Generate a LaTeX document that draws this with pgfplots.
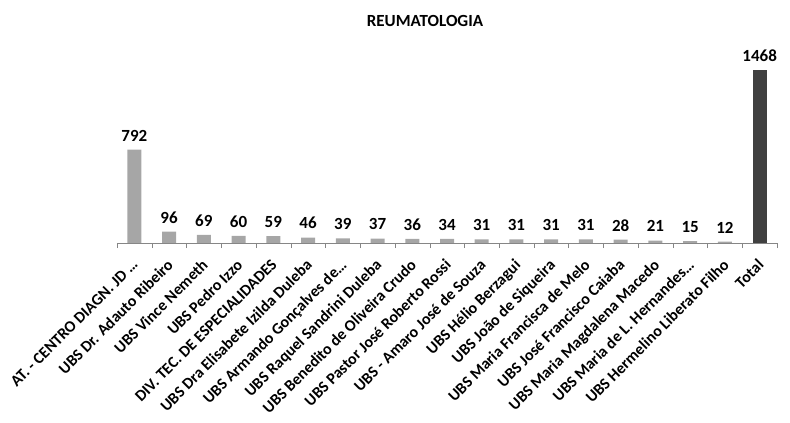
\documentclass[border=0pt]{standalone}
\usepackage{pgfplots}
\pgfplotsset{compat=1.18}
\usepackage{fontspec}
\setmainfont{Carlito}
\definecolor{barlight}{HTML}{A6A6A6}
\definecolor{bardark}{HTML}{404040}
\definecolor{axisgray}{HTML}{868686}
\begin{document}
\begin{tikzpicture}[x=1pt,y=1pt]
\path[use as bounding box] (0,0) rectangle (790,423);
\node[font=\bfseries\fontsize{17}{19}\selectfont] at (425,402) {REUMATOLOGIA};
\begin{axis}[
  at={(117pt,180pt)}, anchor=south west,
  scale only axis,
  width=660pt, height=188.6pt,
  xmin=-0.5, xmax=18.5,
  ymin=0, ymax=1600,
  axis x line*=bottom,
  axis y line=none,
  x axis line style={axisgray, -},
  xtick={0,1,2,3,4,5,6,7,8,9,10,11,12,13,14,15,16,17,18},
  xticklabels={{AT. - CENTRO DIAGN. JD \ldots},{UBS Dr. Adauto Ribeiro},{UBS Vince Nemeth},{UBS Pedro Izzo},{DIV. TEC. DE ESPECIALIDADES},{UBS Dra Elisabete Izilda Duleba},{UBS Armando Gonçalves de\ldots},{UBS Raquel Sandrini Duleba},{UBS Benedito de Oliveira Crudo},{UBS Pastor José Roberto Rossi},{UBS - Amaro José de Souza},{UBS Hélio Berzagui},{UBS João de Siqueira},{UBS Maria Francisca de Melo},{UBS José Francisco Caiaba},{UBS Maria Magdalena Macedo},{UBS Maria de L. Hernandes\ldots},{UBS Hermelino Liberato Filho},{Total}},
  major tick length=0pt,
  extra x ticks={-0.5,0.5,1.5,2.5,3.5,4.5,5.5,6.5,7.5,8.5,9.5,10.5,11.5,12.5,13.5,14.5,15.5,16.5,17.5,18.5},
  extra x tick labels={},
  extra x tick style={major tick length=5pt, tick style={axisgray}, tick align=outside},
  xticklabel style={xshift=-3pt, yshift=-15pt, rotate=45, anchor=north east, font=\bfseries\fontsize{16}{18}\selectfont, inner sep=0pt},
  bar width=14pt,
  nodes near coords,
  /pgf/number format/assume math mode=true,
  /pgf/number format/1000 sep={},
  every node near coord/.append style={font=\bfseries\fontsize{17}{19}\selectfont, text=black, yshift=5pt},
  clip=false,
]
\addplot[ybar, fill=barlight, draw=none] coordinates {(0,792) (1,96) (2,69) (3,60) (4,59) (5,46) (6,39) (7,37) (8,36) (9,34) (10,31) (11,31) (12,31) (13,31) (14,28) (15,21) (16,15) (17,12)};
\addplot[ybar, fill=bardark, draw=none] coordinates {(18,1468)};
\end{axis}
\end{tikzpicture}
\end{document}
